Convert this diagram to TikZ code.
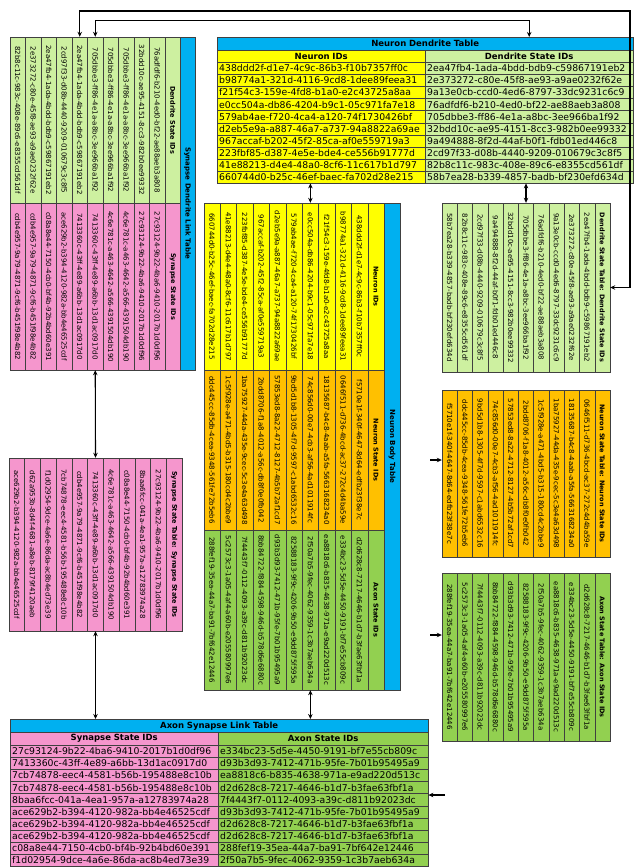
\documentclass[tikz,border=0pt]{standalone}
\usepackage{fontspec}
\setmainfont{DejaVu Sans}
\usetikzlibrary{arrows.meta}
\definecolor{titleblue}{RGB}{0,176,240}
\definecolor{nyellow}{RGB}{255,255,0}
\definecolor{dgreen}{RGB}{205,240,160}
\definecolor{agreen}{RGB}{146,208,80}
\definecolor{spink}{RGB}{245,150,205}
\definecolor{sorange}{RGB}{255,192,0}
\tikzset{
  cell/.style={draw=black!75, line width=0.4pt, inner sep=0pt},
  hcell/.style={cell, anchor=north west, minimum height=12.1pt, text width=204pt, inner xsep=2pt, align=left, font=\fontsize{9.3}{10}\selectfont},
  hhead/.style={hcell, minimum height=13pt, align=center, font=\fontsize{8.5}{10}\selectfont\bfseries},
  vcell/.style={cell, rotate=-90, minimum height=15.5pt, font=\fontsize{7}{8}\selectfont},
  vhead/.style={vcell, font=\fontsize{6.5}{8}\selectfont\bfseries},
  link/.style={draw, line width=1.1pt, {Stealth[length=5pt,width=4.5pt]}-{Stealth[length=5pt,width=4.5pt]}},
  feed/.style={draw, line width=1.1pt, -{Stealth[length=5pt,width=4.5pt]}},
}
\begin{document}
\begin{tikzpicture}[x=1pt,y=-1pt]
\useasboundingbox (0,0) rectangle (636,867);

% neuron dendrite table
\node[hhead, fill=titleblue, text width=412pt] (ndt) at (217,37) {Neuron Dendrite Table};
\node[hhead, fill=nyellow] (ndt-nh) at (217,50) {Neuron IDs};
\node[hhead, fill=dgreen] (ndt-dh) at (425,50) {Dendrite State IDs};
\foreach \n/\d [count=\i] in {
  438ddd2f-d1e7-4c9c-86b3-f10b7357ff0c/2ea47fb4-1ada-4bdd-bdb9-c59867191eb2,
  b98774a1-321d-4116-9cd8-1dee89feea31/2e373272-c80e-45f8-ae93-a9ae0232f62e,
  f21f54c3-159e-4fd8-b1a0-e2c43725a8aa/9a13e0cb-ccd0-4ed6-8797-33dc9231c6c9,
  e0cc504a-db86-4204-b9c1-05c971fa7e18/76adfdf6-b210-4ed0-bf22-ae88aeb3a808,
  579ab4ae-f720-4ca4-a120-74f1730426bf/705dbbe3-ff86-4e1a-a8bc-3ee966ba1f92,
  d2eb5e9a-a887-46a7-a737-94a8822a69ae/32bdd10c-ae95-4151-8cc3-982b0ee99332,
  967accaf-b202-45f2-85ca-af0e559719a3/9a494888-8f2d-44af-b0f1-fdb01ed446c8,
  223fbf85-d387-4e5e-bde4-ce556b91777d/2cd97f33-d08b-4440-9209-010679c3c8f5,
  41e88213-d4e4-48a0-8cf6-11c617b1d797/82b8c11c-983c-408e-89c6-e8355cd561df,
  660744d0-b25c-46ef-baec-fa702d28e215/58b7ea28-b339-4857-badb-bf230efd634d}{
  \node[hcell, fill=nyellow] (ndt-n\i) at (217,{62+12.1*(\i-1)}) {\n};
  \node[hcell, fill=dgreen] (ndt-d\i) at (425,{62+12.1*(\i-1)}) {\d};
}

% synapse dendrite link table
\node[vhead, fill=titleblue, minimum width=333pt, minimum height=15pt, font=\fontsize{7}{8}\selectfont\bfseries] (sdl) at (187.5,203.5) {Synapse Dendrite Link Table};
\node[vhead, fill=dgreen, minimum width=166pt] (sdl-dh) at (172.75,120) {Dendrite State IDs};
\node[vhead, fill=spink, minimum width=167pt] (sdl-sh) at (172.75,286.5) {Synapse State IDs};
\foreach \d/\s [count=\i] in {
  76adfdf6-b210-4ed0-bf22-ae88aeb3a808/27c93124-9b22-4ba6-9410-2017b1d0df96,
  32bdd10c-ae95-4151-8cc3-982b0ee99332/27c93124-9b22-4ba6-9410-2017b1d0df96,
  705dbbe3-ff86-4e1a-a8bc-3ee966ba1f92/4c6e781c-a463-4642-a566-4391504db190,
  705dbbe3-ff86-4e1a-a8bc-3ee966ba1f92/4c6e781c-a463-4642-a566-4391504db190,
  705dbbe3-ff86-4e1a-a8bc-3ee966ba1f92/7413360c-43ff-4e89-a6bb-13d1ac0917d0,
  2ea47fb4-1ada-4bdd-bdb9-c59867191eb2/7413360c-43ff-4e89-a6bb-13d1ac0917d0,
  2cd97f33-d08b-4440-9209-010679c3c8f5/ace629b2-b394-4120-982a-bb4e46525cdf,
  2ea47fb4-1ada-4bdd-bdb9-c59867191eb2/c08a8e44-7150-4cb0-bf4b-92b4bd60e391,
  2e373272-c80e-45f8-ae93-a9ae0232f62e/cdb4e957-9a79-4871-9cf6-b451f98e4b82,
  82b8c11c-983c-408e-89c6-e8355cd561df/cdb4e957-9a79-4871-9cf6-b451f98e4b82}{
  \node[vcell, fill=dgreen, minimum width=166pt] (sdl-d\i) at ({172.75-15.5*\i},120) {\d};
  \node[vcell, fill=spink, minimum width=167pt] (sdl-s\i) at ({172.75-15.5*\i},286.5) {\s};
}

% synapse state table
\node[vhead, fill=spink, minimum width=173pt, minimum height=15.75pt] (sst) at (174.25,544.5) {Synapse State Table: Synapse State IDs};
\foreach \s [count=\i] in {
  27c93124-9b22-4ba6-9410-2017b1d0df96, 8baa6fcc-041a-4ea1-957a-a12783974a28,
  c08a8e44-7150-4cb0-bf4b-92b4bd60e391, 4c6e781c-a463-4642-a566-4391504db190,
  7413360c-43ff-4e89-a6bb-13d1ac0917d0, cdb4e957-9a79-4871-9cf6-b451f98e4b82,
  7cb74878-eec4-4581-b56b-195488e8c10b, f1d02954-9dce-4a6e-86da-ac8b4ed73e39,
  d62a953b-8d4f-4681-a8eb-8179f4120aeb, ace629b2-b394-4120-982a-bb4e46525cdf}{
  \node[vcell, fill=spink, minimum width=173pt, minimum height=15.75pt] (sst-\i) at ({174.25-15.75*\i},544.5) {\s};
}

% neuron body table
\node[vhead, fill=titleblue, minimum width=487pt, minimum height=16pt, font=\fontsize{7}{8}\selectfont\bfseries] (nbt) at (392,446.5) {Neuron Body Table};
\node[vhead, fill=nyellow, minimum width=167pt, minimum height=16.4pt] (nbt-nh) at (376,286.5) {Neuron IDs};
\node[vhead, fill=sorange, minimum width=160pt, minimum height=16.4pt] (nbt-sh) at (376,450) {Neuron State IDs};
\node[vhead, fill=agreen, minimum width=160pt, minimum height=16.4pt] (nbt-ah) at (376,610) {Axon State IDs};
\foreach \n/\s/\a [count=\i] in {
  438ddd2f-d1e7-4c9c-86b3-f10b7357ff0c/f5710e1f-340f-4647-8d64-edfb23f38e7c/d2d628c8-7217-4646-b1d7-b3fae63fbf1a,
  b98774a1-321d-4116-9cd8-1dee89feea31/0646f511-d736-4bcd-ac37-272c4d4ba59e/e334bc23-5d5e-4450-9191-bf7e55cb809c,
  f21f54c3-159e-4fd8-b1a0-e2c43725a8aa/18135687-b4c8-4aab-a5fa-5663168234a0/ea8818c6-b835-4638-971a-e9ad220d513c,
  e0cc504a-db86-4204-b9c1-05c971fa7e18/74c856d0-00e7-4cb3-af56-4ad1011914fc/2f50a7b5-9fec-4062-9359-1c3b7aeb634a,
  579ab4ae-f720-4ca4-a120-74f1730426bf/9bd5d1b8-1305-4f7d-9597-c1abd6532c16/82588183-9f9c-4206-9b50-e9dd875f595a,
  d2eb5e9a-a887-46a7-a737-94a8822a69ae/57853ed8-8a22-4712-8127-4b5b72af1cd7/d93b3d93-7412-471b-95fe-7b01b95495a9,
  967accaf-b202-45f2-85ca-af0e559719a3/2bdd8706-f1a8-4012-a56c-db8f0e0fb042/8bb84722-f884-4598-946d-b578d6e6880c,
  223fbf85-d387-4e5e-bde4-ce556b91777d/1ba75927-44da-435e-9cec-5c3e4a63d498/7f4443f7-0112-4093-a39c-d811b92023dc,
  41e88213-d4e4-48a0-8cf6-11c617b1d797/1c5f928e-a471-4bd5-b315-180cd4c2bbe9/5c2573c3-1a05-4af4-a60b-e205580997e6,
  660744d0-b25c-46ef-baec-fa702d28e215/ddc445cc-85db-4cea-9348-561fe72b5eb6/288fef19-35ea-44a7-ba91-7bf642e12446}{
  \node[vcell, fill=nyellow, minimum width=167pt, minimum height=16.4pt] (nbt-n\i) at ({376-16.4*\i},286.5) {\n};
  \node[vcell, fill=sorange, minimum width=160pt, minimum height=16.4pt] (nbt-s\i) at ({376-16.4*\i},450) {\s};
  \node[vcell, fill=agreen, minimum width=160pt, minimum height=16.4pt] (nbt-a\i) at ({376-16.4*\i},610) {\a};
}

% state tables on the right
\node[vhead, fill=dgreen, minimum width=169pt, minimum height=15.27pt] (dst) at (602.35,287.5) {Dendrite State Table: Dendrite State IDs};
\node[vhead, fill=sorange, minimum width=167pt, minimum height=15.27pt] (nst) at (602.35,473.5) {Neuron State Table: Neuron State IDs};
\node[vhead, fill=agreen, minimum width=168pt, minimum height=15.27pt] (ast) at (602.35,657) {Axon State Table: Axon State IDs};
\foreach \d/\s/\a [count=\i] in {
  2ea47fb4-1ada-4bdd-bdb9-c59867191eb2/0646f511-d736-4bcd-ac37-272c4d4ba59e/d2d628c8-7217-4646-b1d7-b3fae63fbf1a,
  2e373272-c80e-45f8-ae93-a9ae0232f62e/18135687-b4c8-4aab-a5fa-5663168234a0/e334bc23-5d5e-4450-9191-bf7e55cb809c,
  9a13e0cb-ccd0-4ed6-8797-33dc9231c6c9/1ba75927-44da-435e-9cec-5c3e4a63d498/ea8818c6-b835-4638-971a-e9ad220d513c,
  76adfdf6-b210-4ed0-bf22-ae88aeb3a808/1c5f928e-a471-4bd5-b315-180cd4c2bbe9/2f50a7b5-9fec-4062-9359-1c3b7aeb634a,
  705dbbe3-ff86-4e1a-a8bc-3ee966ba1f92/2bdd8706-f1a8-4012-a56c-db8f0e0fb042/82588183-9f9c-4206-9b50-e9dd875f595a,
  32bdd10c-ae95-4151-8cc3-982b0ee99332/57853ed8-8a22-4712-8127-4b5b72af1cd7/d93b3d93-7412-471b-95fe-7b01b95495a9,
  9a494888-8f2d-44af-b0f1-fdb01ed446c8/74c856d0-00e7-4cb3-af56-4ad1011914fc/8bb84722-f884-4598-946d-b578d6e6880c,
  2cd97f33-d08b-4440-9209-010679c3c8f5/9bd5d1b8-1305-4f7d-9597-c1abd6532c16/7f4443f7-0112-4093-a39c-d811b92023dc,
  82b8c11c-983c-408e-89c6-e8355cd561df/ddc445cc-85db-4cea-9348-561fe72b5eb6/5c2573c3-1a05-4af4-a60b-e205580997e6,
  58b7ea28-b339-4857-badb-bf230efd634d/f5710e1f-340f-4647-8d64-edfb23f38e7c/288fef19-35ea-44a7-ba91-7bf642e12446}{
  \node[vcell, fill=dgreen, minimum width=169pt, minimum height=15.27pt] (dst-\i) at ({602.35-15.27*\i},287.5) {\d};
  \node[vcell, fill=sorange, minimum width=167pt, minimum height=15.27pt] (nst-\i) at ({602.35-15.27*\i},473.5) {\s};
  \node[vcell, fill=agreen, minimum width=168pt, minimum height=15.27pt] (ast-\i) at ({602.35-15.27*\i},657) {\a};
}

% axon synapse link table
\node[hhead, fill=titleblue, text width=414pt] (asl) at (10,719) {Axon Synapse Link Table};
\node[hhead, fill=spink] (asl-sh) at (10,732) {Synapse State IDs};
\node[hhead, fill=agreen, text width=206pt] (asl-ah) at (218,732) {Axon State IDs};
\foreach \s/\a [count=\i] in {
  27c93124-9b22-4ba6-9410-2017b1d0df96/e334bc23-5d5e-4450-9191-bf7e55cb809c,
  7413360c-43ff-4e89-a6bb-13d1ac0917d0/d93b3d93-7412-471b-95fe-7b01b95495a9,
  7cb74878-eec4-4581-b56b-195488e8c10b/ea8818c6-b835-4638-971a-e9ad220d513c,
  7cb74878-eec4-4581-b56b-195488e8c10b/d2d628c8-7217-4646-b1d7-b3fae63fbf1a,
  8baa6fcc-041a-4ea1-957a-a12783974a28/7f4443f7-0112-4093-a39c-d811b92023dc,
  ace629b2-b394-4120-982a-bb4e46525cdf/d93b3d93-7412-471b-95fe-7b01b95495a9,
  ace629b2-b394-4120-982a-bb4e46525cdf/d2d628c8-7217-4646-b1d7-b3fae63fbf1a,
  ace629b2-b394-4120-982a-bb4e46525cdf/d2d628c8-7217-4646-b1d7-b3fae63fbf1a,
  c08a8e44-7150-4cb0-bf4b-92b4bd60e391/288fef19-35ea-44a7-ba91-7bf642e12446,
  f1d02954-9dce-4a6e-86da-ac8b4ed73e39/2f50a7b5-9fec-4062-9359-1c3b7aeb634a}{
  \node[hcell, fill=spink] (asl-s\i) at (10,{745+12.1*(\i-1)}) {\s};
  \node[hcell, fill=agreen, text width=206pt] (asl-a\i) at (218,{745+12.1*(\i-1)}) {\a};
}

% links
\coordinate (topright) at (630,11);
\draw[link] (sdl-d6.west) |- (topright) |- (dst.north);
\draw[link] (sdl-d5.west) -- ++(0,-16) -| (ndt-dh.north |- ndt.north);
\draw[link] (ndt-n10.south -| nbt-n4.west) -- (nbt-n4.west);
\draw[link] (ndt-d10.south -| dst-5.west) -- (dst-5.west);
\draw[link] (sdl-s5.east) -- (sst-5.west);
\draw[link] (sst-5.east) -- (sst-5.east |- asl.north);
\draw[link] (nbt-a4.east) -- (nbt-a4.east |- asl.north);
\coordinate (nstfeed) at (430,460);
\coordinate (astfeed) at (430,635);
\coordinate (aslfeed) at (445,795);
\draw[feed] (nstfeed) -- (nstfeed -| nst-10.south);
\draw[feed] (astfeed) -- (astfeed -| ast-10.south);
\draw[feed] (aslfeed) -- (aslfeed -| asl-a5.east);
\end{tikzpicture}
\end{document}
